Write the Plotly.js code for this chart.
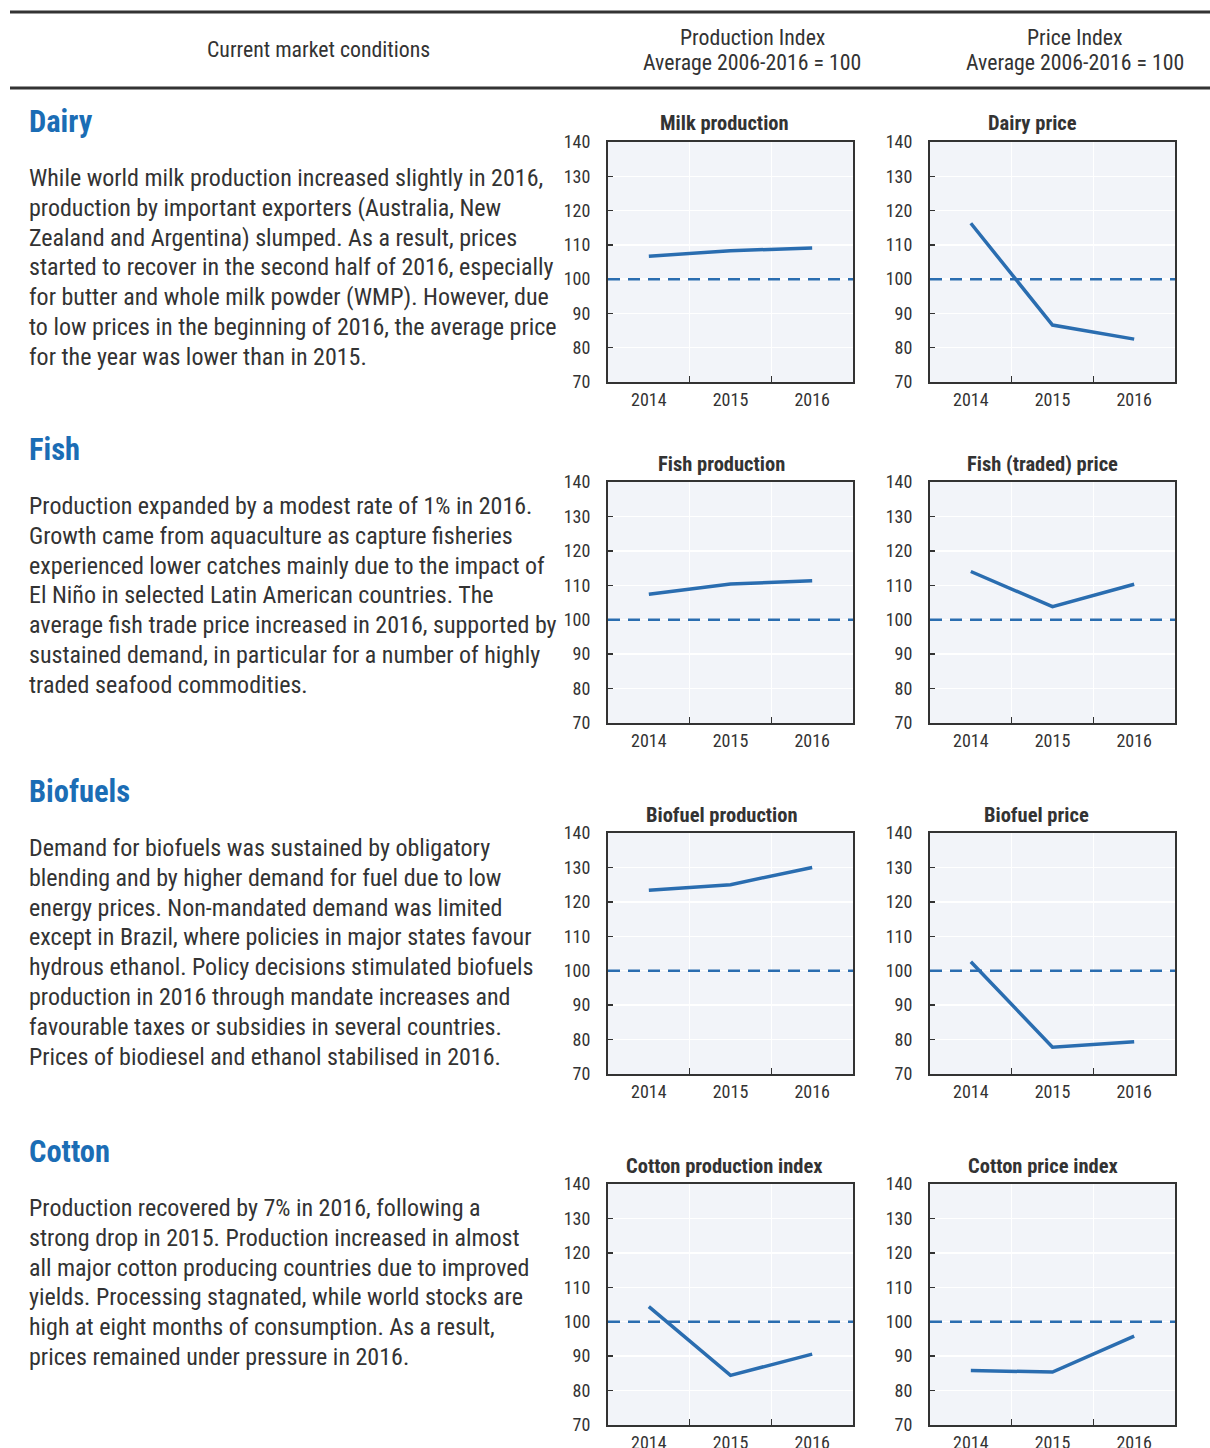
<!DOCTYPE html>
<html>
<head>
<meta charset="utf-8">
<script src="https://cdn.plot.ly/plotly-3.0.1.min.js"></script>
<style>
  html, body { margin: 0; padding: 0; background: #ffffff; }
  #chart { width: 1210px; height: 1448px; }
</style>
</head>
<body>
<div id="chart"></div>
<script>
// ---------------- DATA ----------------
const years = ['2014', '2015', '2016'];
const yTicks = [70, 80, 90, 100, 110, 120, 130, 140];
const baseline = 100;

const milkProduction   = [106.7, 108.3, 109.1];
const dairyPrice       = [116.3, 86.6, 82.5];
const fishProduction   = [107.4, 110.4, 111.3];
const fishPrice        = [114.0, 103.8, 110.3];
const biofuelProduction= [123.4, 125.0, 130.0];
const biofuelPrice     = [102.6, 77.8, 79.4];
const cottonProduction = [104.4, 84.4, 90.6];
const cottonPrice      = [85.8, 85.4, 95.8];

const panelTitles = ['Milk production', 'Dairy price', 'Fish production', 'Fish (traded) price',
                     'Biofuel production', 'Biofuel price', 'Cotton production index', 'Cotton price index'];
const panelSeries = [milkProduction, dairyPrice, fishProduction, fishPrice,
                     biofuelProduction, biofuelPrice, cottonProduction, cottonPrice];

const sectionNames = ['Dairy', 'Fish', 'Biofuels', 'Cotton'];
const sectionTexts = [
  ['While world milk production increased slightly in 2016,',
   'production by important exporters (Australia, New',
   'Zealand and Argentina) slumped. As a result, prices',
   'started to recover in the second half of 2016, especially',
   'for butter and whole milk powder (WMP). However, due',
   'to low prices in the beginning of 2016, the average price',
   'for the year was lower than in 2015.'],
  ['Production expanded by a modest rate of 1% in 2016.',
   'Growth came from aquaculture as capture fisheries',
   'experienced lower catches mainly due to the impact of',
   'El Niño in selected Latin American countries. The',
   'average fish trade price increased in 2016, supported by',
   'sustained demand, in particular for a number of highly',
   'traded seafood commodities.'],
  ['Demand for biofuels was sustained by obligatory',
   'blending and by higher demand for fuel due to low',
   'energy prices. Non-mandated demand was limited',
   'except in Brazil, where policies in major states favour',
   'hydrous ethanol. Policy decisions stimulated biofuels',
   'production in 2016 through mandate increases and',
   'favourable taxes or subsidies in several countries.',
   'Prices of biodiesel and ethanol stabilised in 2016.'],
  ['Production recovered by 7% in 2016, following a',
   'strong drop in 2015. Production increased in almost',
   'all major cotton producing countries due to improved',
   'yields. Processing stagnated, while world stocks are',
   'high at eight months of consumption. As a result,',
   'prices remained under pressure in 2016.']
];
const headerLabels = [['Current market conditions'],
                      ['Production Index', 'Average 2006-2016 = 100'],
                      ['Price Index', 'Average 2006-2016 = 100']];

// ---------------- LAYOUT ----------------
const W = 1210, H = 1448;
const FONT = "'Liberation Sans Narrow', 'Roboto Condensed', 'DejaVu Sans Condensed', 'Liberation Sans', sans-serif";
const TXT = '#333333';
const BLUE = '#2a6db0';
const HEAD_BLUE = '#1b6db5';
const px = v => v / W;
const py = v => 1 - v / H;

const colX = [[608, 853], [930, 1175]];
const rowY = [[142, 382], [482, 723], [833, 1074], [1184, 1425]];
const titleX = [[724, 1032], [721, 1042], [722, 1036], [724, 1043]];
const titleY = [123, 464, 815, 1166];
const headY = [122, 449, 791, 1151];
const textTop = [178, 506, 848, 1208];
const lineGap = 29.8;

const data = [];
const layout = {
  width: W, height: H,
  margin: {l: 0, r: 0, t: 0, b: 0},
  paper_bgcolor: '#ffffff',
  plot_bgcolor: '#f2f4f9',
  showlegend: false,
  font: {family: FONT, color: TXT},
  annotations: [],
  shapes: []
};

for (let i = 0; i < 8; i++) {
  const r = Math.floor(i / 2), c = i % 2, n = i + 1;
  const xa = 'xaxis' + (n === 1 ? '' : n), ya = 'yaxis' + (n === 1 ? '' : n);
  const xr = 'x' + (n === 1 ? '' : n), yr = 'y' + (n === 1 ? '' : n);
  layout[xa] = {
    domain: [px(colX[c][0]), px(colX[c][1])],
    anchor: yr,
    type: 'category',
    range: [-0.5, 2.5],
    tickson: 'boundaries',
    ticks: 'inside', ticklen: 6, tickwidth: 1.5, tickcolor: '#333',
    showgrid: true, gridcolor: '#ffffff', gridwidth: 1.5,
    showline: true, mirror: true, linecolor: '#333', linewidth: 2,
    zeroline: false,
    tickfont: {family: FONT, size: 18, color: TXT},
    fixedrange: true
  };
  layout[ya] = {
    domain: [py(rowY[r][1]), py(rowY[r][0])],
    anchor: xr,
    range: [70, 140],
    tickvals: yTicks,
    ticks: 'inside', ticklen: 5, tickwidth: 1.5, tickcolor: '#333',
    showgrid: true, gridcolor: '#ffffff', gridwidth: 1.5,
    showline: true, mirror: true, linecolor: '#333', linewidth: 2,
    zeroline: false,
    ticklabelstandoff: 12,
    tickfont: {family: FONT, size: 18, color: TXT},
    fixedrange: true
  };
  data.push({
    type: 'scatter', mode: 'lines',
    x: years, y: panelSeries[i],
    xaxis: xr, yaxis: yr,
    line: {color: BLUE, width: 3.5},
    hoverinfo: 'skip'
  });
  layout.shapes.push({
    type: 'line', xref: xr + ' domain', yref: yr,
    x0: 0, x1: 1, y0: baseline, y1: baseline,
    line: {color: BLUE, width: 2.5, dash: '12px,8px'}
  });
  layout.annotations.push({
    xref: 'paper', yref: 'paper', x: px(titleX[r][c]), y: py(titleY[r]),
    xanchor: 'center', yanchor: 'middle', showarrow: false,
    text: '<b>' + panelTitles[i] + '</b>',
    font: {family: FONT, size: 20.5, color: TXT}
  });
}

// Sections
for (let s = 0; s < 4; s++) {
  layout.annotations.push({
    xref: 'paper', yref: 'paper', x: px(27), y: py(headY[s]),
    xanchor: 'left', yanchor: 'middle', showarrow: false,
    text: '<b>' + sectionNames[s] + '</b>',
    font: {family: FONT, size: 30.5, color: HEAD_BLUE}
  });
  sectionTexts[s].forEach((line, k) => {
    layout.annotations.push({
      xref: 'paper', yref: 'paper', x: px(27), y: py(textTop[s] + k * lineGap),
      xanchor: 'left', yanchor: 'middle', align: 'left', showarrow: false,
      text: line,
      font: {family: FONT, size: 24, color: TXT}
    });
  });
}

// Header
const headerX = [318, 752, 1075];
const headerLineY = [[50], [37, 63], [37, 63]];
headerLabels.forEach((lines, k) => {
  lines.forEach((t, j) => {
    layout.annotations.push({
      xref: 'paper', yref: 'paper', x: px(headerX[k]), y: py(headerLineY[k][j]),
      xanchor: 'center', yanchor: 'middle', align: 'center', showarrow: false,
      text: t,
      font: {family: FONT, size: 21.8, color: TXT}
    });
  });
});
layout.shapes.push(
  {type: 'line', xref: 'paper', yref: 'paper', x0: px(10), x1: 1, y0: py(12), y1: py(12),
   line: {color: '#333', width: 3}},
  {type: 'line', xref: 'paper', yref: 'paper', x0: px(10), x1: 1, y0: py(88), y1: py(88),
   line: {color: '#333', width: 3}}
);

Plotly.newPlot('chart', data, layout, {displayModeBar: false, staticPlot: true});
</script>
</body>
</html>
